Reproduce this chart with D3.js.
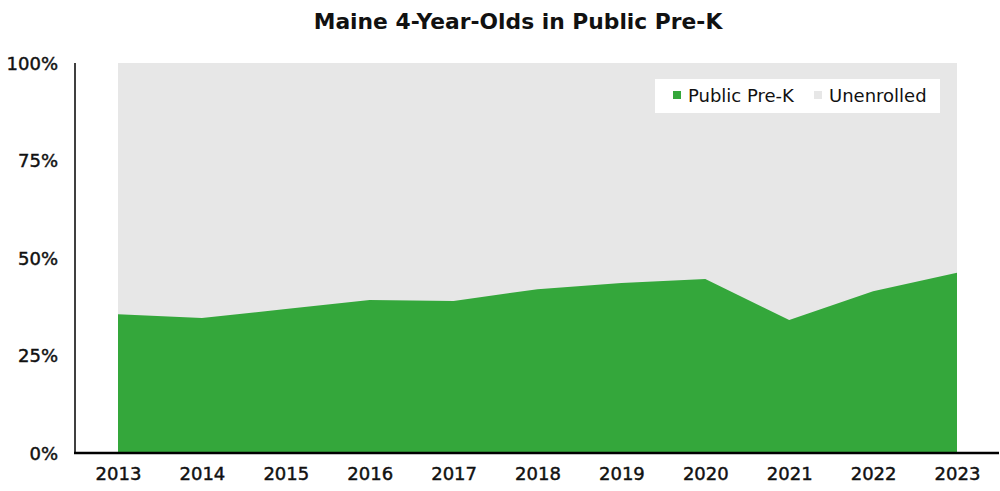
<!DOCTYPE html>
<html><head><meta charset="utf-8">
<script src="https://cdn.jsdelivr.net/npm/d3@7"></script>
<style>body{margin:0;background:#fff}svg{display:block}text{font-family:"DejaVu Sans",sans-serif}</style>
</head><body><svg id="c" width="1000" height="491"></svg>
<script>
const years = [2013,2014,2015,2016,2017,2018,2019,2020,2021,2022,2023];
const publicPreK = [35.6,34.6,36.9,39.2,39.0,42.0,43.6,44.6,34.1,41.5,46.2];
const yTicks = [0,25,50,75,100];
const seriesNames = ["Public Pre-K","Unenrolled"];
const colors = ["#34a73b","#e7e7e7"];

const svg = d3.select("#c");
const x = d3.scaleLinear().domain([2013,2023]).range([118,957]);
const y = d3.scaleLinear().domain([0,100]).range([453,63]);
const data = years.map((yr,i)=>({year:yr,v:publicPreK[i]}));

svg.append("path").datum(data).attr("fill",colors[1])
  .attr("d",d3.area().x(d=>x(d.year)).y0(y(0)).y1(y(100)));
svg.append("path").datum(data).attr("fill",colors[0])
  .attr("d",d3.area().curve(d3.curveLinear).x(d=>x(d.year)).y0(y(0)).y1(d=>y(d.v)));

function styleTicks(sel){
  sel.attr("font-size",18).attr("font-family","DejaVu Sans,sans-serif")
    .attr("fill","#111").attr("stroke","#111").attr("stroke-width",0.45);
}
// y axis
const ya = svg.append("g").attr("transform","translate(75,0)")
  .call(d3.axisLeft(y).tickValues(yTicks).tickSize(0).tickPadding(17).tickFormat(d=>d+"%"));
ya.select(".domain").attr("stroke","#000").attr("stroke-width",1.5).attr("d",`M0,${y(100)}V${y(0)}`);
styleTicks(ya.selectAll("text").attr("dy","0.36em"));

// x axis
const xa = svg.append("g").attr("transform",`translate(0,${y(0)})`)
  .call(d3.axisBottom(x).tickValues(years).tickSize(0).tickPadding(14).tickFormat(d3.format("d")));
xa.select(".domain").attr("stroke","#000").attr("stroke-width",2.5).attr("d","M74,0H999");
styleTicks(xa.selectAll("text"));

// title
svg.append("text").attr("x",518).attr("y",29).attr("text-anchor","middle")
  .attr("font-size",21.8).attr("font-weight",700).attr("fill","#111")
  .text("Maine 4-Year-Olds in Public Pre-K");

// legend
const lg = svg.append("g");
lg.append("rect").attr("x",655).attr("y",79).attr("width",285).attr("height",34).attr("fill","#fff");
const lx = [673,814];
seriesNames.forEach((n,i)=>{
  lg.append("rect").attr("x",lx[i]).attr("y",91).attr("width",8).attr("height",8).attr("fill",colors[i]);
  lg.append("text").attr("x",lx[i]+15).attr("y",102).attr("font-size",18).attr("fill","#111").text(n);
});
</script></body></html>
